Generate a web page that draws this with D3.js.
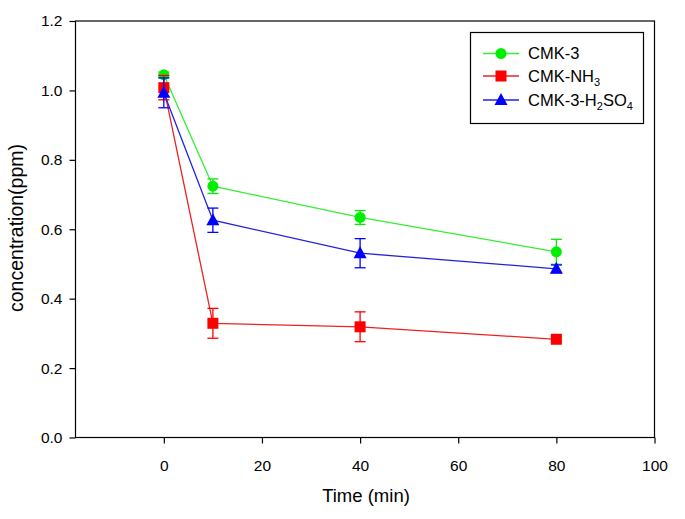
<!DOCTYPE html>
<html><head><meta charset="utf-8">
<script src="https://cdn.jsdelivr.net/npm/d3@7"></script>
<style>body{margin:0;background:#fff}text{font-family:"Liberation Sans",Arial,sans-serif}</style>
</head><body>
<svg id="c" width="685" height="519"></svg>
<script>
const times = [0, 10, 40, 80];
const cmk3 = [1.045, 0.724, 0.634, 0.535];
const cmk3Err = [0.008, 0.021, 0.02, 0.036];
const cmkNH3 = [1.008, 0.329, 0.319, 0.283];
const cmkNH3Err = [0.035, 0.043, 0.043, 0.008];
const cmkH2SO4 = [0.993, 0.626, 0.531, 0.486];
const cmkH2SO4Err = [0.043, 0.035, 0.042, 0.011];
const xTicks = [0, 20, 40, 60, 80, 100];
const yTicks = [0, 0.2, 0.4, 0.6, 0.8, 1.0, 1.2];

const series = [
  {name: "CMK-3", vals: cmk3, err: cmk3Err, color: "#00ee00", line: "#33ee33", shape: "circle"},
  {name: "CMK-NH3", vals: cmkNH3, err: cmkNH3Err, color: "#ff0000", line: "#ee2222", shape: "square"},
  {name: "CMK-3-H2SO4", vals: cmkH2SO4, err: cmkH2SO4Err, color: "#0000ff", line: "#2222dd", shape: "triangle"}
];

const L = 75.5, R = 654.5, T = 21, B = 437.5;
const x = d3.scaleLinear().domain([-18, 100]).range([L, R]);
const y = d3.scaleLinear().domain([0, 1.2]).range([B, T]);
const svg = d3.select("#c");

svg.append("rect").attr("x", L).attr("y", T).attr("width", R - L).attr("height", B - T)
  .attr("fill", "none").attr("stroke", "#000").attr("stroke-width", 1.2);

const xAxis = svg.append("g").attr("transform", `translate(0,${B})`)
  .call(d3.axisBottom(x).tickValues(xTicks).tickSize(6).tickPadding(16).tickFormat(d3.format("d")));
const yAxis = svg.append("g").attr("transform", `translate(${L},0)`)
  .call(d3.axisLeft(y).tickValues(yTicks).tickSize(6).tickPadding(7).tickFormat(d3.format(".1f")));
[xAxis, yAxis].forEach(a => {
  a.select(".domain").remove();
  a.selectAll("line").attr("stroke", "#000").attr("stroke-width", 1.2);
  a.selectAll("text").attr("font-size", 15.5).attr("fill", "#000")
    .style("font-family", '"Liberation Sans", Arial, sans-serif');
});

svg.append("text").attr("x", (L + R) / 2 + 1).attr("y", 502).attr("text-anchor", "middle")
  .attr("font-size", 18.5).text("Time (min)");
svg.append("text").attr("transform", `translate(23,228) rotate(-90)`)
  .attr("text-anchor", "middle").attr("font-size", 19.5).text("concentration(ppm)");

function marker(g, shape, cx, cy, color) {
  if (shape === "circle") g.append("circle").attr("cx", cx).attr("cy", cy).attr("r", 5.5).attr("fill", color);
  else if (shape === "square") g.append("rect").attr("x", cx - 5.5).attr("y", cy - 5.5).attr("width", 11).attr("height", 11).attr("fill", color);
  else g.append("path").attr("d", `M${cx},${cy - 7}L${cx + 6.5},${cy + 5}L${cx - 6.5},${cy + 5}Z`).attr("fill", color);
}

const line = d3.line().x(d => x(d[0])).y(d => y(d[1]));
series.forEach(s => {
  const g = svg.append("g");
  const pts = times.map((t, i) => [t, s.vals[i]]);
  g.append("path").attr("d", line(pts)).attr("fill", "none").attr("stroke", s.line).attr("stroke-width", 1.3);
  times.forEach((t, i) => {
    const cx = x(t), y1 = y(s.vals[i] + s.err[i]), y2 = y(s.vals[i] - s.err[i]);
    g.append("line").attr("x1", cx).attr("x2", cx).attr("y1", y1).attr("y2", y2).attr("stroke", s.color).attr("stroke-width", 1.3);
    [y1, y2].forEach(yy => g.append("line").attr("x1", cx - 5.5).attr("x2", cx + 5.5).attr("y1", yy).attr("y2", yy)
      .attr("stroke", s.color).attr("stroke-width", 1.3));
  });
  times.forEach((t, i) => marker(g, s.shape, x(t), y(s.vals[i]), s.color));
});

const lg = svg.append("g");
lg.append("rect").attr("x", 470.5).attr("y", 32.5).attr("width", 173).attr("height", 91)
  .attr("fill", "#fff").attr("stroke", "#000").attr("stroke-width", 1.2);
const rows = [53.5, 76, 100];
series.forEach((s, i) => {
  const yy = rows[i];
  lg.append("line").attr("x1", 483).attr("x2", 519).attr("y1", yy).attr("y2", yy).attr("stroke", s.line).attr("stroke-width", 1.3);
  marker(lg, s.shape, 501, yy, s.color);
  const t = lg.append("text").attr("x", 528).attr("y", yy + 5.5).attr("font-size", 16.5);
  if (i === 0) t.text("CMK-3");
  else if (i === 1) { t.append("tspan").text("CMK-NH"); t.append("tspan").attr("font-size", 11).attr("dy", 4).text("3"); }
  else {
    t.append("tspan").text("CMK-3-H");
    t.append("tspan").attr("font-size", 11).attr("dy", 4).text("2");
    t.append("tspan").attr("dy", -4).text("SO");
    t.append("tspan").attr("font-size", 11).attr("dy", 4).text("4");
  }
});
</script>
</body></html>
